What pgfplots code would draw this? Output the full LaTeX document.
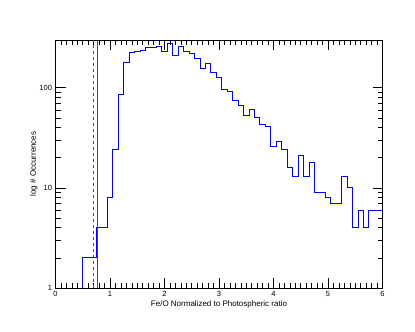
\documentclass[border=0pt]{standalone}
\usepackage{fontspec}
\setmainfont{Liberation Sans}
\usepackage{pgfplots}
\pgfplotsset{compat=1.18}

\begin{document}
\begin{tikzpicture}
\begin{axis}[
    at={(0pt,0pt)}, anchor=south west,
    width=327pt, height=248pt,
    scale only axis,
    xmin=0, xmax=6,
    ymode=log, ymin=1, ymax=300,
    xtick={0,1,2,3,4,5,6},
    minor x tick num=9,
    ytick={1,10,100},
    yticklabels={1,10,100},
    major tick length=10pt,
    minor tick length=5pt,
    axis line style={line width=0.9pt},
    every tick/.style={black, line width=0.6pt},
    tick label style={font=\fontsize{7.5}{9}\selectfont},
    label style={font=\fontsize{8}{9}\selectfont},
    /pgf/number format/assume math mode=true,
    xlabel={Fe/O Normalized to Photospheric ratio},
    ylabel={log \# Occurrences},
    xlabel style={yshift=3pt},
    ylabel style={yshift=-5pt},
    clip=true,
]
\addplot[const plot, blue, line width=0.8pt] coordinates {
(0.50,1) (0.50,2) (0.75,4) (0.95,8) (1.05,24) (1.15,86) (1.25,180) (1.35,227)
(1.45,233) (1.55,238) (1.65,251) (1.85,261) (1.95,229) (2.05,280) (2.15,209)
(2.25,261) (2.35,229) (2.45,219) (2.55,196) (2.65,157) (2.75,177) (2.85,142)
(2.95,128) (3.05,96) (3.15,93) (3.25,75) (3.35,66) (3.45,53) (3.55,61)
(3.65,51) (3.75,43) (3.85,41) (3.95,26) (4.05,29) (4.15,24) (4.25,16)
(4.35,13) (4.45,21) (4.55,13) (4.65,18) (4.75,9) (4.95,8) (5.05,7)
(5.25,13) (5.35,10) (5.45,4) (5.55,6) (5.65,4) (5.75,6) (6.00,6)
};
\addplot[red, dashed, line width=0.6pt] coordinates {(0.70,1) (0.70,300)};
\addplot[red, line width=0.6pt] coordinates {(0.77,1) (0.77,300)};
\end{axis}
\path (-55.5pt,-44pt) rectangle (359.5pt,288pt);
\end{tikzpicture}
\end{document}
